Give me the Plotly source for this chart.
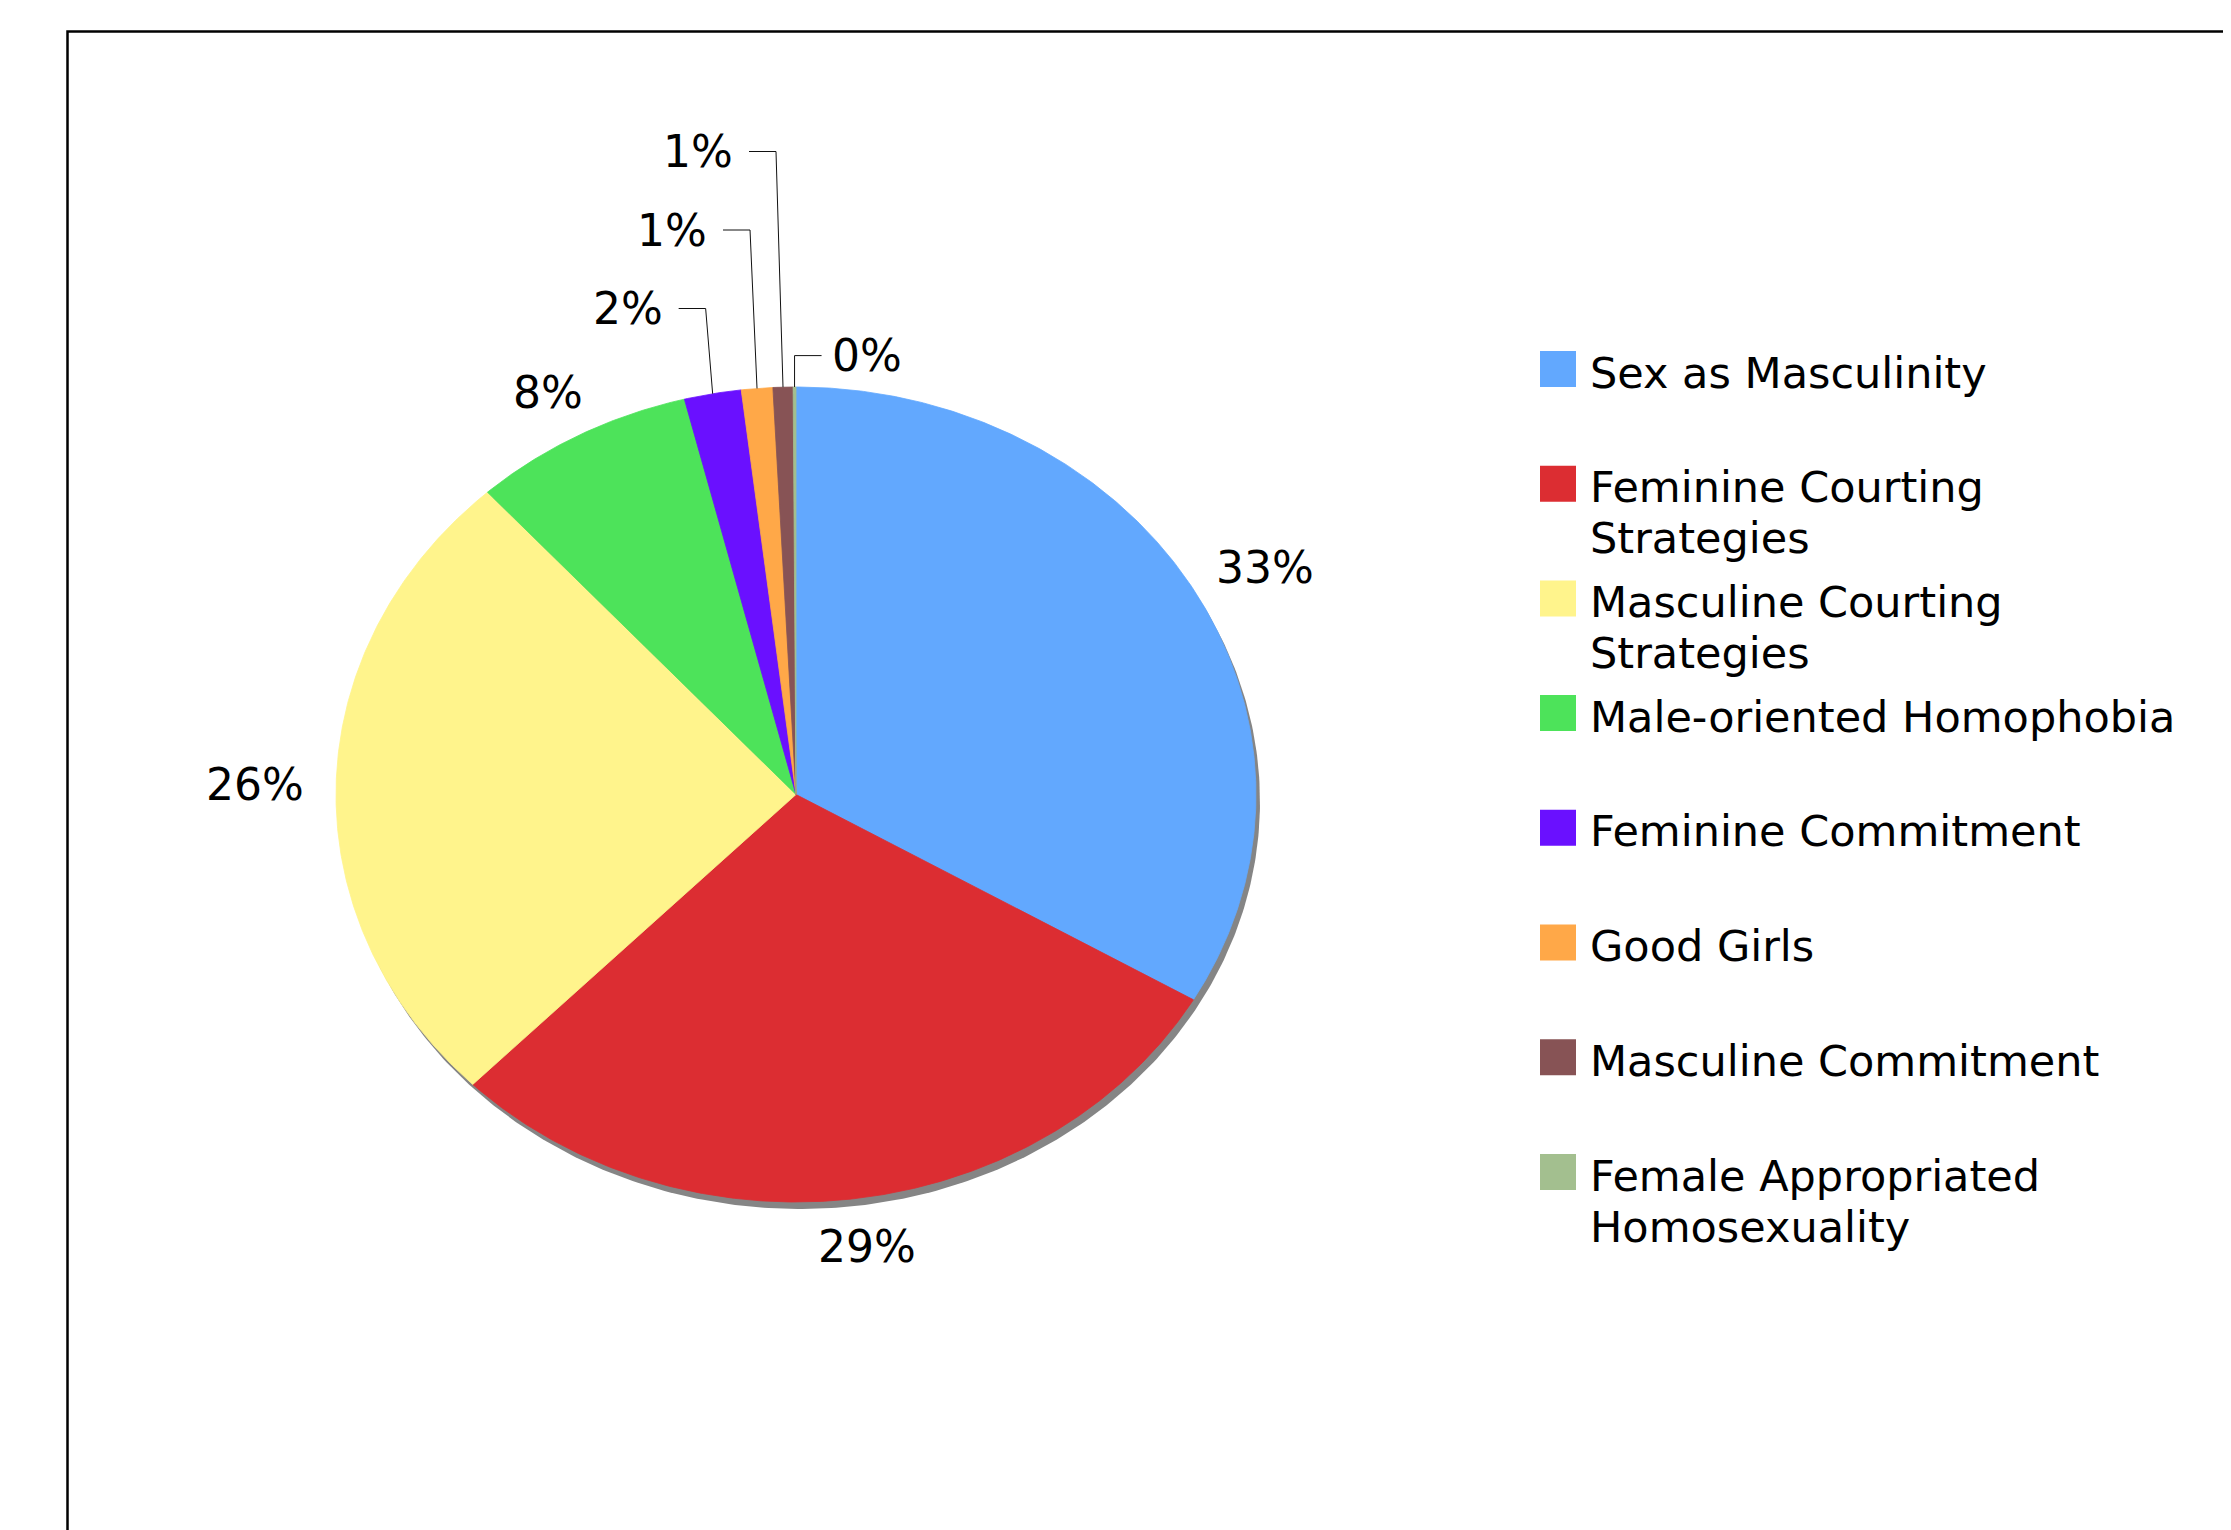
import numpy as np
import plotly.graph_objects as go

# ---------------- data ----------------
categories = [
    "Sex as Masculinity",
    "Feminine Courting Strategies",
    "Masculine Courting Strategies",
    "Male-oriented Homophobia",
    "Feminine Commitment",
    "Good Girls",
    "Masculine Commitment",
    "Female Appropriated Homosexuality",
]
legend_labels = [
    "Sex as Masculinity",
    "Feminine Courting<br>Strategies",
    "Masculine Courting<br>Strategies",
    "Male-oriented Homophobia",
    "Feminine Commitment",
    "Good Girls",
    "Masculine Commitment",
    "Female Appropriated<br>Homosexuality",
]
values = [33.4, 29.0, 25.9, 7.8, 2.0, 1.1, 0.7, 0.1]
colors = ["#62A8FE", "#DC2D32", "#FFF48C", "#4DE35A",
          "#6A10FF", "#FFA848", "#875355", "#A3BF8F"]

# ---------------- layout constants (page pixels) ----------------
W, H = 2231, 1530
OFF = 8  # default page body margin
CX, CY = 796, 794.5
RX, RY = 460, 407.5
SHADOW_DX, SHADOW_DY = 4, 7
LABEL_GAP = 32
SMALL_LIMIT = 3.0
LEVEL_STEP = 78.5
LEG_X = 1558
LEG_TX = 1588
LEG_Y0 = 369
LEG_DY = 114.7
LEG_LINE = 51
FONT = "DejaVu Sans, Verdana, sans-serif"
LABEL_FS = 44
LEG_FS = 43

total = float(sum(values))
fracs = np.array(values) / total
ends = np.cumsum(fracs) * 2 * np.pi
starts = ends - fracs * 2 * np.pi
mids = (starts + ends) / 2
pct = ["%d%%" % round(f * 100) for f in fracs]


def ell(theta, f=1.0):
    return CX + f * RX * np.sin(theta), CY - f * RY * np.cos(theta)


def text_w(s, fs):
    # approximate rendered width of a percentage label
    return fs * (0.636 * sum(c.isdigit() for c in s) + 0.95 * s.count("%"))


fig = go.Figure()

# shadow
t = np.linspace(0, 2 * np.pi, 600)
sx, sy = ell(t)
fig.add_trace(go.Scatter(x=sx + SHADOW_DX, y=sy + SHADOW_DY, mode="lines",
                         fill="toself", fillcolor="#858585",
                         line=dict(width=0, color="#858585"),
                         hoverinfo="skip", showlegend=False))

# wedges
for i, cat in enumerate(categories):
    n = max(3, int(fracs[i] * 900))
    th = np.linspace(starts[i], ends[i], n)
    x, y = ell(th)
    x = np.concatenate([[CX], x, [CX]])
    y = np.concatenate([[CY], y, [CY]])
    fig.add_trace(go.Scatter(x=x, y=y, mode="lines", fill="toself",
                             fillcolor=colors[i],
                             line=dict(width=0.8, color=colors[i]),
                             name=cat, hoverinfo="name", showlegend=False))

annotations = []
# percentage labels
small = [i for i, v in enumerate(values) if v < SMALL_LIMIT]
left_small = small[:-1]
right_small = small[-1:]
top_y = CY - RY
lx, ly = [], []
for i in range(len(values)):
    if i in small:
        continue
    ex, ey = ell(mids[i])
    dx, dy = np.sin(mids[i]), -np.cos(mids[i])
    w = text_w(pct[i], LABEL_FS)
    h = 0.73 * LABEL_FS
    x = ex + dx * (LABEL_GAP + w / 2)
    y = ey + dy * (LABEL_GAP + h / 2)
    annotations.append(dict(x=x, y=y, xref="x", yref="y", text=pct[i],
                            showarrow=False, xanchor="center", yanchor="middle",
                            font=dict(family=FONT, size=LABEL_FS, color="black")))
for level, i in enumerate(left_small, start=1):
    ex, ey = ell(mids[i])
    yy = top_y - level * LEVEL_STEP
    bx = ex - 7
    lx += [ex, bx, bx - 27, None]
    ly += [ey, yy, yy, None]
    annotations.append(dict(x=bx - 27 - 14, y=yy, xref="x", yref="y", text=pct[i],
                            showarrow=False, xanchor="right", yanchor="middle",
                            font=dict(family=FONT, size=LABEL_FS, color="black")))
for i in right_small:
    ex, ey = ell(mids[i])
    yy = top_y - 0.4 * LEVEL_STEP
    lx += [ex, ex, ex + 27, None]
    ly += [ey, yy, yy, None]
    annotations.append(dict(x=ex + 27 + 8, y=yy, xref="x", yref="y", text=pct[i],
                            showarrow=False, xanchor="left", yanchor="middle",
                            font=dict(family=FONT, size=LABEL_FS, color="black")))
fig.add_trace(go.Scatter(x=lx, y=ly, mode="lines",
                         line=dict(color="#111111", width=1),
                         hoverinfo="skip", showlegend=False))

# legend
leg_y = [LEG_Y0 + k * LEG_DY for k in range(len(categories))]
fig.add_trace(go.Scatter(x=[LEG_X] * len(categories), y=leg_y, mode="markers",
                         marker=dict(symbol="square", size=36, color=colors,
                                     line=dict(width=0)),
                         hovertext=categories, hoverinfo="text", showlegend=False))
for k, lab in enumerate(legend_labels):
    for j, line in enumerate(lab.split("<br>")):
        annotations.append(dict(x=LEG_TX, y=leg_y[k] + j * LEG_LINE, xref="x", yref="y",
                                text=line, showarrow=False, xanchor="left",
                                yanchor="top", yshift=LEG_FS * 0.66 - 5, align="left",
                                font=dict(family=FONT, size=LEG_FS, color="black")))

# frame
shapes = [dict(type="rect", xref="x", yref="y", x0=67.5, y0=31.5, x1=W + 20, y1=H + 20,
               line=dict(color="black", width=2.5), fillcolor="rgba(0,0,0,0)", layer="below")]

fig.update_layout(
    width=W - OFF, height=H - OFF,
    margin=dict(l=0, r=0, t=0, b=0),
    paper_bgcolor="white", plot_bgcolor="white",
    xaxis=dict(range=[OFF, W], visible=False, fixedrange=True),
    yaxis=dict(range=[H, OFF], visible=False, fixedrange=True),
    annotations=annotations, shapes=shapes, showlegend=False,
)

fig.write_html("out.html")
